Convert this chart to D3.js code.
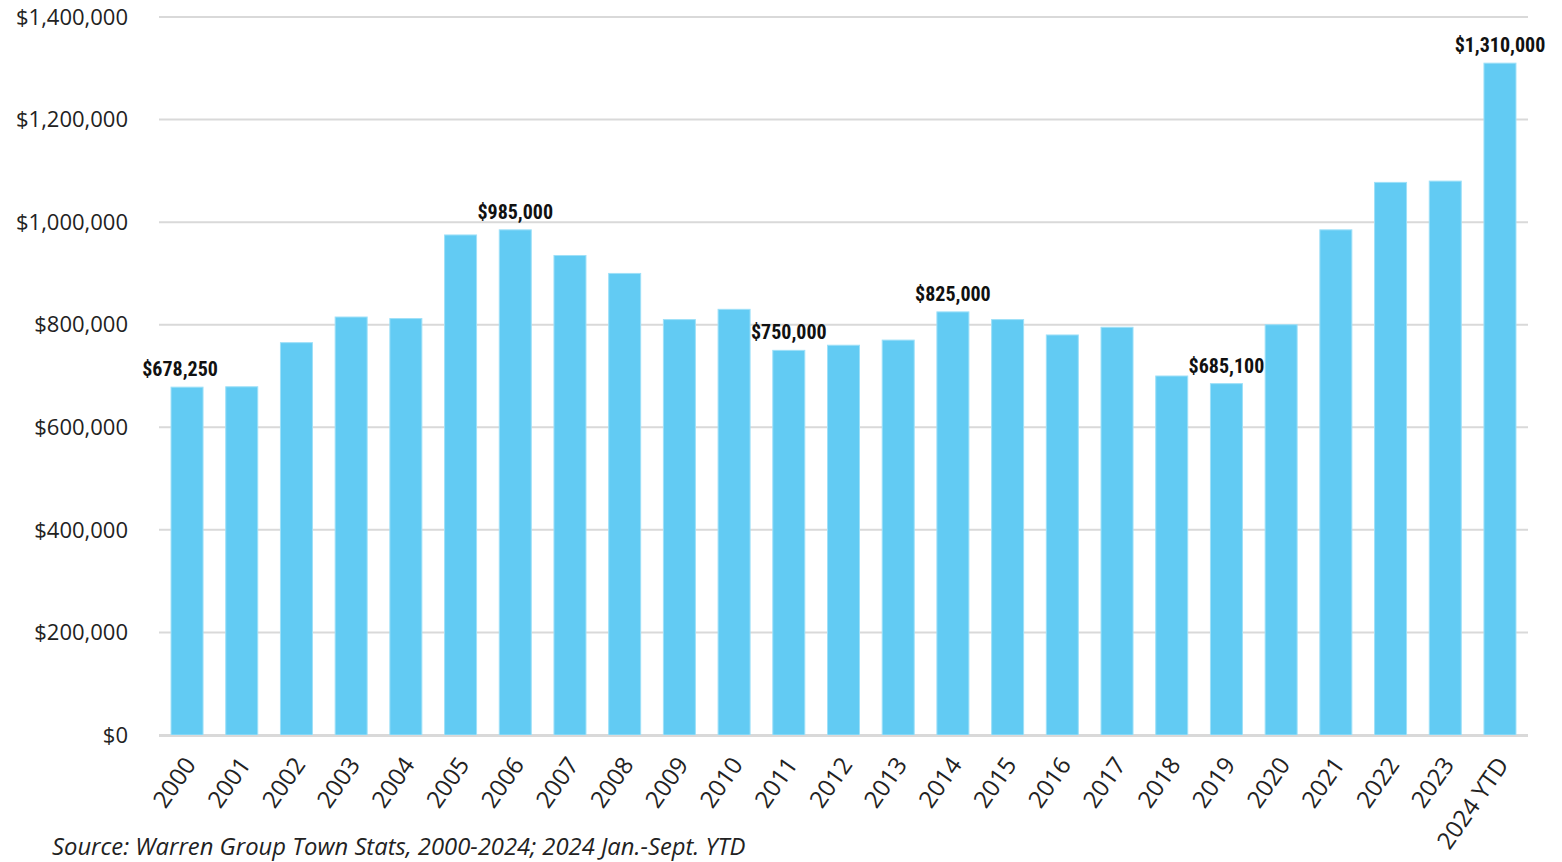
<!DOCTYPE html>
<meta charset="utf-8">
<script src="https://d3js.org/d3.v7.min.js"></script>
<style>
  body { margin: 0; background: #fff; }
  text { font-family: "Open Sans", "Noto Sans", sans-serif; fill: #222; }
  .grid line { stroke: #d9d9d9; stroke-width: 2px; }
  .lbl { font-family: "Liberation Sans Narrow", "Arial Narrow", "Roboto Condensed", sans-serif; font-weight: bold; font-size: 20px; fill: #111; }
</style>
<svg id="chart" width="1562" height="862"></svg>
<script>
  // data
  const years = ["2000","2001","2002","2003","2004","2005","2006","2007","2008","2009",
    "2010","2011","2012","2013","2014","2015","2016","2017","2018","2019",
    "2020","2021","2022","2023","2024 YTD"];
  const prices = [678250, 679000, 765000, 815000, 812000, 975000, 985000, 935000, 900000, 810000,
    830000, 750000, 760000, 770000, 825000, 810000, 780000, 795000, 700000, 685100,
    800000, 985000, 1077500, 1080000, 1310000];
  const labelled = ["2000", "2006", "2011", "2014", "2019", "2024 YTD"];
  const yTicks = [0, 200000, 400000, 600000, 800000, 1000000, 1200000, 1400000];
  const source = "Source: Warren Group Town Stats, 2000-2024; 2024 Jan.-Sept. YTD";

  const svg = d3.select("#chart");
  const mLeft = 159, mRight = 1528, mTop = 17, mBottom = 735;

  const x = d3.scaleBand().domain(years).range([mLeft, mRight])
    .paddingInner(0.415).paddingOuter(0.22);
  const y = d3.scaleLinear().domain([0, 1400000]).range([mBottom, mTop]);
  const money = d => "$" + d3.format(",")(d);

  // gridlines
  svg.append("g").attr("class", "grid")
    .selectAll("line").data(yTicks).join("line")
    .attr("x1", mLeft).attr("x2", mRight)
    .attr("y1", d => y(d)).attr("y2", d => y(d));

  // y labels
  svg.append("g").selectAll("text").data(yTicks).join("text")
    .attr("x", 128).attr("y", d => y(d)).attr("dy", "0.35em")
    .attr("text-anchor", "end").style("font-size", "22px")
    .text(d => money(d));

  // bars
  svg.append("g").selectAll("rect").data(years).join("rect")
    .attr("x", d => x(d)).attr("width", x.bandwidth())
    .attr("y", (d, i) => y(prices[i])).attr("height", (d, i) => mBottom - y(prices[i]))
    .attr("fill", "#62cbf3").attr("stroke", "#9ee0f8").attr("stroke-width", 1);

  // baseline
  svg.append("line").attr("x1", mLeft).attr("x2", mRight)
    .attr("y1", mBottom + 1).attr("y2", mBottom + 1)
    .attr("stroke", "#d9d9d9").attr("stroke-width", 2);

  // value labels
  svg.append("g").selectAll("text").data(years.filter(d => labelled.includes(d))).join("text")
    .attr("class", "lbl")
    .attr("x", d => x(d) + x.bandwidth() / 2 - (d === "2000" ? 7 : 0))
    .attr("y", d => y(prices[years.indexOf(d)]) - 11)
    .attr("text-anchor", "middle")
    .text(d => money(prices[years.indexOf(d)]));

  // x labels
  svg.append("g").selectAll("text").data(years).join("text")
    .attr("transform", d => `translate(${x(d) + x.bandwidth() / 2 + 3},${mBottom + 25}) rotate(-55)`)
    .attr("text-anchor", "end").attr("dy", "0.35em")
    .style("font-size", "24px")
    .text(d => d);

  // source
  svg.append("text").attr("x", 52).attr("y", 855)
    .style("font-size", "23.8px").style("font-style", "italic")
    .text(source);
</script>
